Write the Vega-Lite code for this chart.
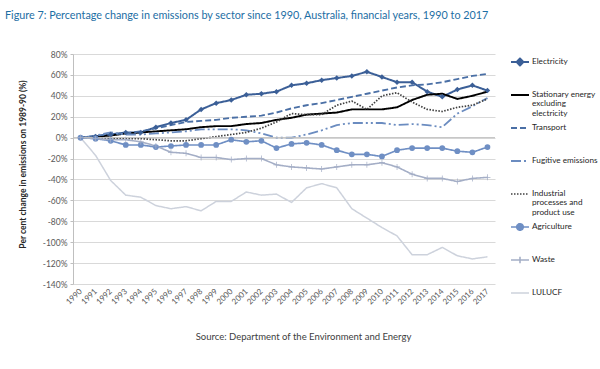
{
  "$schema": "https://vega.github.io/schema/vega-lite/v6.json",
  "width": 422,
  "height": 230,
  "autosize": {"type": "none"},
  "padding": {"left": 73, "top": 54, "right": 105, "bottom": 85},
  "background": "white",
  "title": {
    "text": "Figure 7: Percentage change in emissions by sector since 1990, Australia, financial years, 1990 to 2017",
    "anchor": "start",
    "frame": "group",
    "dx": -68,
    "offset": 29,
    "font": "Lato",
    "fontSize": 10.8,
    "fontWeight": "normal",
    "color": "#1c6ea4"
  },
  "config": {
    "view": {"stroke": null},
    "legend": {
      "orient": "none",
      "legendX": 437,
      "legendY": 3,
      "padding": 0,
      "symbolType": "stroke",
      "symbolSize": 324,
      "symbolStrokeWidth": 1.5,
      "labelFont": "Lato",
      "labelFontSize": 8.2,
      "labelColor": "#262626",
      "labelLimit": 200,
      "labelOffset": 2,
      "labelBaseline": "top",
      "clipHeight": 30,
      "rowPadding": 2
    }
  },
  "data": {
    "values": [
      {"year": "1990", "sector": "Electricity", "value": 0},
      {"year": "1991", "sector": "Electricity", "value": 1},
      {"year": "1992", "sector": "Electricity", "value": 3},
      {"year": "1993", "sector": "Electricity", "value": 5},
      {"year": "1994", "sector": "Electricity", "value": 5},
      {"year": "1995", "sector": "Electricity", "value": 10},
      {"year": "1996", "sector": "Electricity", "value": 14},
      {"year": "1997", "sector": "Electricity", "value": 17},
      {"year": "1998", "sector": "Electricity", "value": 27},
      {"year": "1999", "sector": "Electricity", "value": 33},
      {"year": "2000", "sector": "Electricity", "value": 36},
      {"year": "2001", "sector": "Electricity", "value": 41},
      {"year": "2002", "sector": "Electricity", "value": 42},
      {"year": "2003", "sector": "Electricity", "value": 44},
      {"year": "2004", "sector": "Electricity", "value": 50},
      {"year": "2005", "sector": "Electricity", "value": 52},
      {"year": "2006", "sector": "Electricity", "value": 55},
      {"year": "2007", "sector": "Electricity", "value": 57},
      {"year": "2008", "sector": "Electricity", "value": 59},
      {"year": "2009", "sector": "Electricity", "value": 63},
      {"year": "2010", "sector": "Electricity", "value": 58},
      {"year": "2011", "sector": "Electricity", "value": 53},
      {"year": "2012", "sector": "Electricity", "value": 53},
      {"year": "2013", "sector": "Electricity", "value": 44},
      {"year": "2014", "sector": "Electricity", "value": 39},
      {"year": "2015", "sector": "Electricity", "value": 46},
      {"year": "2016", "sector": "Electricity", "value": 50},
      {"year": "2017", "sector": "Electricity", "value": 45},
      {"year": "1990", "sector": "Stationary energy excluding electricity", "value": 0},
      {"year": "1991", "sector": "Stationary energy excluding electricity", "value": 1},
      {"year": "1992", "sector": "Stationary energy excluding electricity", "value": 2},
      {"year": "1993", "sector": "Stationary energy excluding electricity", "value": 4},
      {"year": "1994", "sector": "Stationary energy excluding electricity", "value": 5},
      {"year": "1995", "sector": "Stationary energy excluding electricity", "value": 6},
      {"year": "1996", "sector": "Stationary energy excluding electricity", "value": 7},
      {"year": "1997", "sector": "Stationary energy excluding electricity", "value": 8},
      {"year": "1998", "sector": "Stationary energy excluding electricity", "value": 10},
      {"year": "1999", "sector": "Stationary energy excluding electricity", "value": 11},
      {"year": "2000", "sector": "Stationary energy excluding electricity", "value": 11},
      {"year": "2001", "sector": "Stationary energy excluding electricity", "value": 13},
      {"year": "2002", "sector": "Stationary energy excluding electricity", "value": 14},
      {"year": "2003", "sector": "Stationary energy excluding electricity", "value": 17},
      {"year": "2004", "sector": "Stationary energy excluding electricity", "value": 19},
      {"year": "2005", "sector": "Stationary energy excluding electricity", "value": 22},
      {"year": "2006", "sector": "Stationary energy excluding electricity", "value": 23},
      {"year": "2007", "sector": "Stationary energy excluding electricity", "value": 24},
      {"year": "2008", "sector": "Stationary energy excluding electricity", "value": 27},
      {"year": "2009", "sector": "Stationary energy excluding electricity", "value": 27},
      {"year": "2010", "sector": "Stationary energy excluding electricity", "value": 27},
      {"year": "2011", "sector": "Stationary energy excluding electricity", "value": 29},
      {"year": "2012", "sector": "Stationary energy excluding electricity", "value": 36},
      {"year": "2013", "sector": "Stationary energy excluding electricity", "value": 41},
      {"year": "2014", "sector": "Stationary energy excluding electricity", "value": 42},
      {"year": "2015", "sector": "Stationary energy excluding electricity", "value": 37},
      {"year": "2016", "sector": "Stationary energy excluding electricity", "value": 40},
      {"year": "2017", "sector": "Stationary energy excluding electricity", "value": 44},
      {"year": "1990", "sector": "Transport", "value": 0},
      {"year": "1991", "sector": "Transport", "value": 2},
      {"year": "1992", "sector": "Transport", "value": 3},
      {"year": "1993", "sector": "Transport", "value": 4},
      {"year": "1994", "sector": "Transport", "value": 6},
      {"year": "1995", "sector": "Transport", "value": 9},
      {"year": "1996", "sector": "Transport", "value": 12},
      {"year": "1997", "sector": "Transport", "value": 15},
      {"year": "1998", "sector": "Transport", "value": 16},
      {"year": "1999", "sector": "Transport", "value": 17},
      {"year": "2000", "sector": "Transport", "value": 19},
      {"year": "2001", "sector": "Transport", "value": 20},
      {"year": "2002", "sector": "Transport", "value": 21},
      {"year": "2003", "sector": "Transport", "value": 24},
      {"year": "2004", "sector": "Transport", "value": 28},
      {"year": "2005", "sector": "Transport", "value": 31},
      {"year": "2006", "sector": "Transport", "value": 33},
      {"year": "2007", "sector": "Transport", "value": 36},
      {"year": "2008", "sector": "Transport", "value": 39},
      {"year": "2009", "sector": "Transport", "value": 42},
      {"year": "2010", "sector": "Transport", "value": 45},
      {"year": "2011", "sector": "Transport", "value": 48},
      {"year": "2012", "sector": "Transport", "value": 50},
      {"year": "2013", "sector": "Transport", "value": 51},
      {"year": "2014", "sector": "Transport", "value": 53},
      {"year": "2015", "sector": "Transport", "value": 56},
      {"year": "2016", "sector": "Transport", "value": 59},
      {"year": "2017", "sector": "Transport", "value": 61},
      {"year": "1990", "sector": "Fugitive emissions", "value": 0},
      {"year": "1991", "sector": "Fugitive emissions", "value": 2},
      {"year": "1992", "sector": "Fugitive emissions", "value": 5},
      {"year": "1993", "sector": "Fugitive emissions", "value": 3},
      {"year": "1994", "sector": "Fugitive emissions", "value": 3},
      {"year": "1995", "sector": "Fugitive emissions", "value": 4},
      {"year": "1996", "sector": "Fugitive emissions", "value": 5},
      {"year": "1997", "sector": "Fugitive emissions", "value": 6},
      {"year": "1998", "sector": "Fugitive emissions", "value": 8},
      {"year": "1999", "sector": "Fugitive emissions", "value": 8},
      {"year": "2000", "sector": "Fugitive emissions", "value": 8},
      {"year": "2001", "sector": "Fugitive emissions", "value": 7},
      {"year": "2002", "sector": "Fugitive emissions", "value": 4},
      {"year": "2003", "sector": "Fugitive emissions", "value": 0},
      {"year": "2004", "sector": "Fugitive emissions", "value": 0},
      {"year": "2005", "sector": "Fugitive emissions", "value": 3},
      {"year": "2006", "sector": "Fugitive emissions", "value": 7},
      {"year": "2007", "sector": "Fugitive emissions", "value": 12},
      {"year": "2008", "sector": "Fugitive emissions", "value": 14},
      {"year": "2009", "sector": "Fugitive emissions", "value": 14},
      {"year": "2010", "sector": "Fugitive emissions", "value": 14},
      {"year": "2011", "sector": "Fugitive emissions", "value": 12},
      {"year": "2012", "sector": "Fugitive emissions", "value": 13},
      {"year": "2013", "sector": "Fugitive emissions", "value": 12},
      {"year": "2014", "sector": "Fugitive emissions", "value": 10},
      {"year": "2015", "sector": "Fugitive emissions", "value": 23},
      {"year": "2016", "sector": "Fugitive emissions", "value": 30},
      {"year": "2017", "sector": "Fugitive emissions", "value": 38},
      {"year": "1990", "sector": "Industrial processes and product use", "value": 0},
      {"year": "1991", "sector": "Industrial processes and product use", "value": 0},
      {"year": "1992", "sector": "Industrial processes and product use", "value": -1},
      {"year": "1993", "sector": "Industrial processes and product use", "value": -1},
      {"year": "1994", "sector": "Industrial processes and product use", "value": -1},
      {"year": "1995", "sector": "Industrial processes and product use", "value": -2},
      {"year": "1996", "sector": "Industrial processes and product use", "value": -3},
      {"year": "1997", "sector": "Industrial processes and product use", "value": -3},
      {"year": "1998", "sector": "Industrial processes and product use", "value": -1},
      {"year": "1999", "sector": "Industrial processes and product use", "value": 1},
      {"year": "2000", "sector": "Industrial processes and product use", "value": 3},
      {"year": "2001", "sector": "Industrial processes and product use", "value": 5},
      {"year": "2002", "sector": "Industrial processes and product use", "value": 9},
      {"year": "2003", "sector": "Industrial processes and product use", "value": 15},
      {"year": "2004", "sector": "Industrial processes and product use", "value": 23},
      {"year": "2005", "sector": "Industrial processes and product use", "value": 22},
      {"year": "2006", "sector": "Industrial processes and product use", "value": 22},
      {"year": "2007", "sector": "Industrial processes and product use", "value": 31},
      {"year": "2008", "sector": "Industrial processes and product use", "value": 35},
      {"year": "2009", "sector": "Industrial processes and product use", "value": 27},
      {"year": "2010", "sector": "Industrial processes and product use", "value": 40},
      {"year": "2011", "sector": "Industrial processes and product use", "value": 43},
      {"year": "2012", "sector": "Industrial processes and product use", "value": 34},
      {"year": "2013", "sector": "Industrial processes and product use", "value": 27},
      {"year": "2014", "sector": "Industrial processes and product use", "value": 25},
      {"year": "2015", "sector": "Industrial processes and product use", "value": 29},
      {"year": "2016", "sector": "Industrial processes and product use", "value": 31},
      {"year": "2017", "sector": "Industrial processes and product use", "value": 37},
      {"year": "1990", "sector": "Agriculture", "value": 0},
      {"year": "1991", "sector": "Agriculture", "value": -1},
      {"year": "1992", "sector": "Agriculture", "value": -3},
      {"year": "1993", "sector": "Agriculture", "value": -7},
      {"year": "1994", "sector": "Agriculture", "value": -7},
      {"year": "1995", "sector": "Agriculture", "value": -9},
      {"year": "1996", "sector": "Agriculture", "value": -8},
      {"year": "1997", "sector": "Agriculture", "value": -7},
      {"year": "1998", "sector": "Agriculture", "value": -7},
      {"year": "1999", "sector": "Agriculture", "value": -7},
      {"year": "2000", "sector": "Agriculture", "value": -2},
      {"year": "2001", "sector": "Agriculture", "value": -4},
      {"year": "2002", "sector": "Agriculture", "value": -3},
      {"year": "2003", "sector": "Agriculture", "value": -10},
      {"year": "2004", "sector": "Agriculture", "value": -6},
      {"year": "2005", "sector": "Agriculture", "value": -5},
      {"year": "2006", "sector": "Agriculture", "value": -7},
      {"year": "2007", "sector": "Agriculture", "value": -12},
      {"year": "2008", "sector": "Agriculture", "value": -16},
      {"year": "2009", "sector": "Agriculture", "value": -16},
      {"year": "2010", "sector": "Agriculture", "value": -18},
      {"year": "2011", "sector": "Agriculture", "value": -12},
      {"year": "2012", "sector": "Agriculture", "value": -10},
      {"year": "2013", "sector": "Agriculture", "value": -10},
      {"year": "2014", "sector": "Agriculture", "value": -10},
      {"year": "2015", "sector": "Agriculture", "value": -13},
      {"year": "2016", "sector": "Agriculture", "value": -14},
      {"year": "2017", "sector": "Agriculture", "value": -9},
      {"year": "1990", "sector": "Waste", "value": 0},
      {"year": "1991", "sector": "Waste", "value": -1},
      {"year": "1992", "sector": "Waste", "value": -2},
      {"year": "1993", "sector": "Waste", "value": -2},
      {"year": "1994", "sector": "Waste", "value": -4},
      {"year": "1995", "sector": "Waste", "value": -8},
      {"year": "1996", "sector": "Waste", "value": -14},
      {"year": "1997", "sector": "Waste", "value": -15},
      {"year": "1998", "sector": "Waste", "value": -19},
      {"year": "1999", "sector": "Waste", "value": -19},
      {"year": "2000", "sector": "Waste", "value": -21},
      {"year": "2001", "sector": "Waste", "value": -20},
      {"year": "2002", "sector": "Waste", "value": -20},
      {"year": "2003", "sector": "Waste", "value": -26},
      {"year": "2004", "sector": "Waste", "value": -28},
      {"year": "2005", "sector": "Waste", "value": -29},
      {"year": "2006", "sector": "Waste", "value": -30},
      {"year": "2007", "sector": "Waste", "value": -28},
      {"year": "2008", "sector": "Waste", "value": -26},
      {"year": "2009", "sector": "Waste", "value": -26},
      {"year": "2010", "sector": "Waste", "value": -24},
      {"year": "2011", "sector": "Waste", "value": -28},
      {"year": "2012", "sector": "Waste", "value": -35},
      {"year": "2013", "sector": "Waste", "value": -39},
      {"year": "2014", "sector": "Waste", "value": -39},
      {"year": "2015", "sector": "Waste", "value": -42},
      {"year": "2016", "sector": "Waste", "value": -39},
      {"year": "2017", "sector": "Waste", "value": -38},
      {"year": "1990", "sector": "LULUCF", "value": 0},
      {"year": "1991", "sector": "LULUCF", "value": -17},
      {"year": "1992", "sector": "LULUCF", "value": -41},
      {"year": "1993", "sector": "LULUCF", "value": -55},
      {"year": "1994", "sector": "LULUCF", "value": -57},
      {"year": "1995", "sector": "LULUCF", "value": -65},
      {"year": "1996", "sector": "LULUCF", "value": -68},
      {"year": "1997", "sector": "LULUCF", "value": -66},
      {"year": "1998", "sector": "LULUCF", "value": -70},
      {"year": "1999", "sector": "LULUCF", "value": -61},
      {"year": "2000", "sector": "LULUCF", "value": -61},
      {"year": "2001", "sector": "LULUCF", "value": -52},
      {"year": "2002", "sector": "LULUCF", "value": -55},
      {"year": "2003", "sector": "LULUCF", "value": -54},
      {"year": "2004", "sector": "LULUCF", "value": -62},
      {"year": "2005", "sector": "LULUCF", "value": -48},
      {"year": "2006", "sector": "LULUCF", "value": -44},
      {"year": "2007", "sector": "LULUCF", "value": -48},
      {"year": "2008", "sector": "LULUCF", "value": -68},
      {"year": "2009", "sector": "LULUCF", "value": -77},
      {"year": "2010", "sector": "LULUCF", "value": -86},
      {"year": "2011", "sector": "LULUCF", "value": -94},
      {"year": "2012", "sector": "LULUCF", "value": -112},
      {"year": "2013", "sector": "LULUCF", "value": -112},
      {"year": "2014", "sector": "LULUCF", "value": -105},
      {"year": "2015", "sector": "LULUCF", "value": -113},
      {"year": "2016", "sector": "LULUCF", "value": -116},
      {"year": "2017", "sector": "LULUCF", "value": -114}
    ]
  },
  "layer": [
    {
      "mark": {"type": "line", "strokeJoin": "round"},
      "encoding": {
        "x": {
          "field": "year",
          "type": "ordinal",
          "scale": {"type": "point", "padding": 0.5},
          "axis": {
            "labelAngle": -45,
            "labelAlign": "right",
            "labelBaseline": "middle",
            "labelPadding": 6,
            "labelFont": "Lato",
            "labelFontSize": 8,
            "labelColor": "#595959",
            "ticks": false,
            "domain": false,
            "grid": false,
            "title": "Source: Department of the Environment and Energy",
            "titleFont": "Lato",
            "titleFontSize": 9.5,
            "titleFontWeight": "normal",
            "titleColor": "#404040",
            "titleX": 230,
            "titleY": 52,
            "titleAlign": "center",
            "titleBaseline": "middle"
          }
        },
        "y": {
          "field": "value",
          "type": "quantitative",
          "scale": {"domain": [-140, 80], "nice": false},
          "axis": {
            "values": [-140, -120, -100, -80, -60, -40, -20, 0, 20, 40, 60, 80],
            "tickCount": 12,
            "labelExpr": "datum.value + '%'",
            "labelOverlap": false,
            "labelFont": "Lato",
            "labelFontSize": 8.5,
            "labelColor": "#595959",
            "labelPadding": 3,
            "tickSize": 3,
            "tickColor": "#bfbfbf",
            "domainColor": "#bfbfbf",
            "gridColor": "#d9d9d9",
            "title": "Per cent change in emissions on 1989-90 (%)",
            "titleFont": "Lato",
            "titleFontSize": 8.5,
            "titleFontWeight": "bold",
            "titleColor": "#262626",
            "titleX": -51,
            "titleY": 110,
            "titleAlign": "center",
            "titleBaseline": "middle",
            "titleAngle": -90
          }
        },
        "color": {
          "field": "sector",
          "type": "nominal",
          "scale": {
            "domain": ["Electricity", "Stationary energy excluding electricity", "Transport", "Fugitive emissions", "Industrial processes and product use", "Agriculture", "Waste", "LULUCF"],
            "range": ["#3b5f97", "#000000", "#4a6fa5", "#6b8cc0", "#404040", "#6f8fc4", "#a4aec6", "#cdd2dc"]
          },
          "legend": {
            "title": null,
            "symbolType": "stroke",
            "labelExpr": "datum.label == 'Stationary energy excluding electricity' ? ['Stationary energy', 'excluding', 'electricity'] : datum.label == 'Industrial processes and product use' ? ['Industrial', 'processes and', 'product use'] : datum.label",
            "encode": {
              "symbols": {"update": {
                "y": {"value": 5},
                "shape": {"signal": "datum.value === 'Electricity' ? 'M-1,0H1M0,-0.38L0.38,0L0,0.38L-0.38,0Z' : datum.value === 'Agriculture' ? 'M-1,0H1M0.36,0A0.36,0.36 0 1 1 -0.36,0A0.36,0.36 0 1 1 0.36,0Z' : datum.value === 'Waste' ? 'M-1,0H1M0,-0.35V0.35' : 'stroke'"},
                "fill": {"signal": "datum.value === 'Electricity' || datum.value === 'Agriculture' ? scale('color', datum.value) : 'transparent'"}
              }},
              "labels": {"update": {"lineHeight": {"value": 9.5}, "y": {"value": 0.5}}}
            }
          }
        },
        "strokeDash": {
          "field": "sector",
          "type": "nominal",
          "scale": {
            "domain": ["Electricity", "Stationary energy excluding electricity", "Transport", "Fugitive emissions", "Industrial processes and product use", "Agriculture", "Waste", "LULUCF"],
            "range": [[1, 0], [1, 0], [6, 3], [10, 3, 2, 3, 2, 3], [1.5, 1.5], [1, 0], [1, 0], [1, 0]]
          },
          "legend": {
            "title": null,
            "symbolType": "stroke",
            "labelExpr": "datum.label == 'Stationary energy excluding electricity' ? ['Stationary energy', 'excluding', 'electricity'] : datum.label == 'Industrial processes and product use' ? ['Industrial', 'processes and', 'product use'] : datum.label",
            "encode": {
              "symbols": {"update": {
                "y": {"value": 5},
                "shape": {"signal": "datum.value === 'Electricity' ? 'M-1,0H1M0,-0.38L0.38,0L0,0.38L-0.38,0Z' : datum.value === 'Agriculture' ? 'M-1,0H1M0.36,0A0.36,0.36 0 1 1 -0.36,0A0.36,0.36 0 1 1 0.36,0Z' : datum.value === 'Waste' ? 'M-1,0H1M0,-0.35V0.35' : 'stroke'"},
                "fill": {"signal": "datum.value === 'Electricity' || datum.value === 'Agriculture' ? scale('color', datum.value) : 'transparent'"}
              }},
              "labels": {"update": {"lineHeight": {"value": 9.5}, "y": {"value": 0.5}}}
            }
          }
        },
        "strokeWidth": {
          "field": "sector",
          "type": "nominal",
          "scale": {
            "domain": ["Electricity", "Stationary energy excluding electricity", "Transport", "Fugitive emissions", "Industrial processes and product use", "Agriculture", "Waste", "LULUCF"],
            "range": [2, 1.5, 1.5, 1.5, 1.2, 2, 1.3, 1.5]
          },
          "legend": null
        }
      }
    },
    {
      "data": {"values": [{"value": 0}]},
      "mark": {"type": "rule", "color": "#bfbfbf", "strokeWidth": 1},
      "encoding": {
        "y": {"field": "value", "type": "quantitative"}
      }
    },
    {
      "transform": [{"filter": {"field": "sector", "oneOf": ["Electricity", "Agriculture", "Waste"]}}],
      "mark": {"type": "point", "filled": true, "opacity": 1},
      "encoding": {
        "x": {"field": "year", "type": "ordinal"},
        "y": {"field": "value", "type": "quantitative"},
        "color": {"field": "sector", "type": "nominal", "legend": null},
        "shape": {
          "field": "sector",
          "type": "nominal",
          "scale": {
            "domain": ["Electricity", "Agriculture", "Waste"],
            "range": ["diamond", "circle", "M-1,-0.12H1V0.12H-1Z M-0.12,-1H0.12V1H-0.12Z"]
          },
          "legend": null
        },
        "size": {
          "field": "sector",
          "type": "nominal",
          "scale": {"domain": ["Electricity", "Agriculture", "Waste"], "range": [30, 36, 30]},
          "legend": null
        }
      }
    }
  ]
}
